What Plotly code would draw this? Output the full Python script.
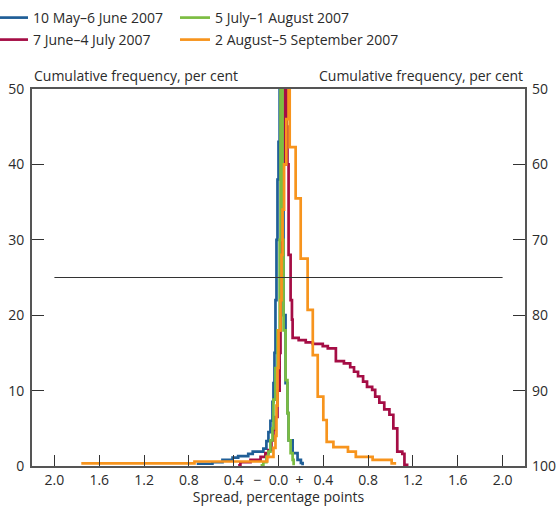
import plotly.graph_objects as go

# ---- data (spread in percentage points, folded cumulative frequency in per cent) ----
series_names = ["10 May–6 June 2007", "5 July–1 August 2007",
                "7 June–4 July 2007", "2 August–5 September 2007"]
series_colors = ["#1f5e97", "#7cbd42", "#a50d45", "#f7941d"]

blue_spread = [-0.73, -0.59, -0.50, -0.41, -0.36, -0.27, -0.23, -0.135, -0.108, -0.09, -0.072,
               -0.054, -0.045, -0.036, -0.027, -0.018, -0.009, 0.0, 0.01,
               0.027, 0.045, 0.063, 0.08, 0.09, 0.126, 0.17, 0.20, 0.215]
blue_freq = [0.3, 0.5, 0.8, 1.1, 1.3, 1.6, 1.9, 2.3, 3.3, 4.5, 6.0,
             8.5, 11, 15, 22, 30, 38, 43, 50,
             35, 20, 11, 7, 3.4, 1.7, 0.8, 0.4, 0.1]

green_spread = [-0.16, -0.135, -0.108, -0.09, -0.072, -0.054, -0.045, -0.027, -0.009, 0.01, 0.018,
                0.036, 0.045, 0.063, 0.08, 0.09, 0.108, 0.126, 0.135]
green_freq = [0.1, 0.5, 1.2, 1.9, 3.4, 5.0, 8.8, 13, 18, 30, 50,
              30, 18, 11.4, 7, 3.4, 1.7, 0.8, 0.1]

red_spread = [-0.36, -0.34, -0.25, -0.16, -0.117, -0.09, -0.063, -0.045, -0.027, -0.009, 0.01,
              0.018, 0.027, 0.036, 0.054,
              0.072, 0.08, 0.09, 0.108, 0.12, 0.126, 0.18, 0.243, 0.306, 0.395, 0.44, 0.512,
              0.584, 0.64, 0.674, 0.71, 0.755, 0.79, 0.836, 0.863, 0.90, 0.944, 0.99,
              1.025, 1.06, 1.105, 1.124, 1.16]
red_freq = [0.1, 0.5, 0.8, 1.2, 1.7, 2.1, 3.4, 4.8, 6.5, 10, 15,
            22, 30, 40, 50,
            45, 40, 28, 22, 19.4, 17.0, 16.7, 16.4, 16.2, 15.9, 15.6, 13.9,
            13.6, 13.1, 12.5, 11.9, 11.2, 10.5, 10.1, 9.2, 8.4, 7.5, 6.8,
            5.0, 1.9, 1.6, 0.15, 0.15]

orange_spread = [-1.76, -0.75, -0.10, -0.045, -0.027, -0.018, -0.009, 0.0, 0.018, 0.027, 0.036,
                 0.05, 0.07, 0.09,
                 0.10, 0.153, 0.198, 0.26, 0.306, 0.35, 0.40, 0.43, 0.49, 0.62, 0.69, 0.84,
                 1.01, 1.05]
orange_freq = [0.35, 0.6, 1.2, 2.4, 4.0, 8.0, 13, 18, 22, 28, 34,
               40, 46, 50,
               42.3, 35.5, 27.5, 20.7, 14.7, 9.2, 6.1, 3.2, 2.5, 1.9, 1.2, 0.8,
               0.35, 0.35]

x_tickvals = [-2.0, -1.6, -1.2, -0.8, -0.4, 0.0, 0.4, 0.8, 1.2, 1.6, 2.0]
x_ticktext = ["2.0", "1.6", "1.2", "0.8", "0.4", "−\u00a0\u00a00.0\u00a0\u00a0+",
              "0.4", "0.8", "1.2", "1.6", "2.0"]
left_ticks = [0, 10, 20, 30, 40, 50]
right_ticks = [50, 60, 70, 80, 90, 100]
median_line = 25

FONT = "Open Sans"
TXT = "#2b2b2b"
AX = "#555555"
W, H = 558, 506
ML, MR, MT, MB = 32, 33, 89, 40
PW = W - ML - MR

fig = go.Figure()

data = [blue_spread, blue_freq], [green_spread, green_freq], [red_spread, red_freq], \
       [orange_spread, orange_freq]
legend_ids = ["legend", "legend2", "legend3", "legend4"]
# legend text start positions (px): x, row centre y
legend_pos = [(33, 18), (215, 18), (33, 40), (215, 40)]

for i in [0, 2, 1, 3]:
    xs, ys = data[i]
    fig.add_trace(go.Scatter(
        x=xs, y=ys, mode="lines", name=series_names[i],
        line=dict(color=series_colors[i], width=2.7, shape="hv"),
        legend=legend_ids[i], hoverinfo="skip"))

fig.add_shape(type="line", xref="x", yref="y", x0=-2.0, x1=2.0,
              y0=median_line, y1=median_line, line=dict(color="#333333", width=1.2))

# invisible trace for the right axis
fig.add_trace(go.Scatter(x=[0], y=[75], yaxis="y2", mode="markers",
                         marker=dict(opacity=0), showlegend=False, hoverinfo="skip"))

legends = {}
for i, lid in enumerate(legend_ids):
    tx, ty = legend_pos[i]
    legends[lid] = dict(orientation="h", xref="paper", yref="container",
                        x=(tx - 40 - ML) / PW, y=1 - ty / H, yanchor="middle", xanchor="left",
                        font=dict(size=14, color=TXT), itemwidth=30,
                        bgcolor="rgba(0,0,0,0)")

fig.update_layout(
    width=W, height=H,
    margin=dict(l=ML, r=MR, t=MT, b=MB, autoexpand=False),
    paper_bgcolor="white", plot_bgcolor="white",
    font=dict(family=FONT, size=14, color=TXT),
    xaxis=dict(range=[-2.2, 2.2], tickvals=x_tickvals, ticktext=x_ticktext,
               ticks="inside", ticklen=11, tickwidth=1.2, tickcolor="#333333",
               showline=True, linecolor=AX, linewidth=2, mirror=True,
               showgrid=False, zeroline=False, automargin=False, ticklabelstandoff=0,
               title=dict(text="Spread, percentage points", standoff=6,
                          font=dict(size=14))),
    yaxis=dict(range=[0, 50], tickvals=left_ticks, ticks="inside", ticklen=12,
               tickwidth=1.2, tickcolor="#333333", automargin=False, ticklabelstandoff=3,
               showline=True, linecolor=AX, linewidth=2, mirror=True,
               showgrid=False, zeroline=False),
    yaxis2=dict(range=[100, 50], tickvals=right_ticks, ticks="inside", ticklen=12,
                tickwidth=1.2, tickcolor="#333333", overlaying="y", side="right",
                automargin=False, ticklabelstandoff=6,
                showline=False, showgrid=False, zeroline=False),
    showlegend=True,
    **legends,
)

fig.add_annotation(text="Cumulative frequency, per cent", xref="paper", yref="paper",
                   x=0, y=1, xanchor="left", yanchor="bottom", yshift=2,
                   showarrow=False, font=dict(size=14, color=TXT))
fig.add_annotation(text="Cumulative frequency, per cent", xref="paper", yref="paper",
                   x=1, y=1, xanchor="right", yanchor="bottom", yshift=2,
                   showarrow=False, font=dict(size=14, color=TXT))

fig.write_html("out.html")
